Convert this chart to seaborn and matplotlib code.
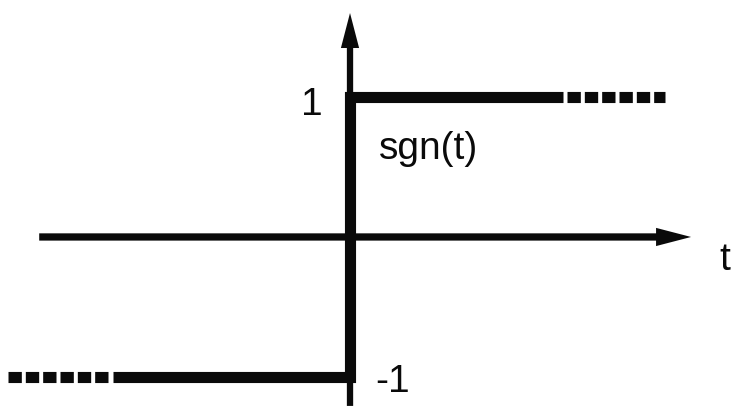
import matplotlib
matplotlib.use("Agg")
import matplotlib.pyplot as plt
import seaborn as sns
import pandas as pd

# ---- data: the signum function sgn(t) ----
step_t = [-1.69, 0.0, 0.0, 1.52]
step_v = [-1, -1, 1, 1]
tail_left_t = [-2.44, -1.71]
tail_left_v = [-1, -1]
tail_right_t = [1.55, 2.25]
tail_right_v = [1, 1]

sns.set_style("white")
plt.rcParams['font.family'] = ['Liberation Sans', 'DejaVu Sans']

fig = plt.figure(figsize=(7.36, 4.16), dpi=100)
ax = fig.add_axes([0, 0, 1, 1])
ax.set_xlim(-2.5, 2.757)
ax.set_ylim(-1.279, 1.693)
ax.axis("off")

ink = "#0a0a0a"

# coordinate axes with arrows
ax.arrow(-2.22, 0, 2.436 + 2.22, 0, width=0.052, head_width=0.13, head_length=0.25,
         length_includes_head=True, color=ink, lw=0)
ax.arrow(0, -1.207, 0, 1.6 + 1.207, width=0.045, head_width=0.13, head_length=0.25,
         length_includes_head=True, color=ink, lw=0)

# sgn(t) solid step
sns.lineplot(x=step_t, y=step_v, sort=False, estimator=None, ax=ax, color=ink,
             linewidth=8, solid_joinstyle="miter", solid_capstyle="butt")
# dashed continuations
for tt, vv in [(tail_left_t, tail_left_v), (tail_right_t, tail_right_v)]:
    sns.lineplot(x=tt, y=vv, sort=False, estimator=None, ax=ax, color=ink,
                 linewidth=8, linestyle=(0, (1.2, 0.36)), dash_capstyle="butt")

fs = 28
ax.text(-0.193, 0.871, "1", fontsize=fs, ha="right", va="baseline", color=ink)
ax.text(0.182, -1.107, "-1", fontsize=fs, ha="left", va="baseline", color=ink)
ax.text(0.207, 0.557, "sgn(t)", fontsize=fs, ha="left", va="baseline", color=ink)
ax.text(2.636, -0.236, "t", fontsize=fs, ha="left", va="baseline", color=ink)

fig.savefig("out.png", dpi=100)
